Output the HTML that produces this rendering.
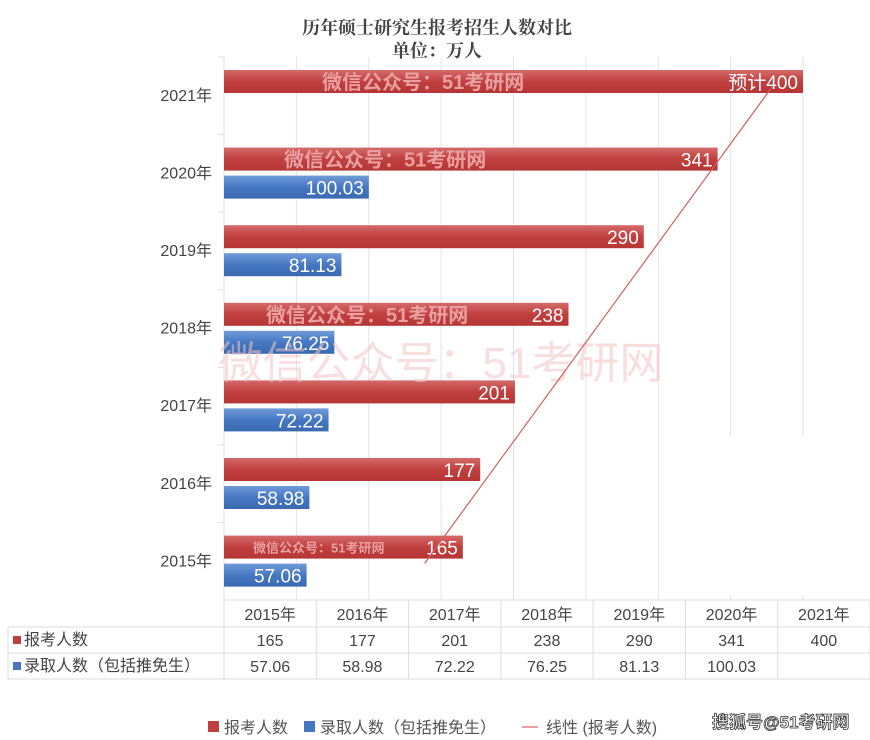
<!DOCTYPE html>
<html><head><meta charset="utf-8"><style>
body{margin:0;background:#fff;}
svg{display:block;font-family:"Liberation Sans","Noto Sans CJK SC",sans-serif;}
</style></head><body>
<svg id="chart" width="870" height="740" viewBox="0 0 870 740">
<defs>
<linearGradient id="gr" x1="0" y1="0" x2="0" y2="1"><stop offset="0" stop-color="#d46a6a"/><stop offset="0.5" stop-color="#c0403f"/><stop offset="1" stop-color="#b53634"/></linearGradient>
<linearGradient id="gb" x1="0" y1="0" x2="0" y2="1"><stop offset="0" stop-color="#6f9bd8"/><stop offset="0.5" stop-color="#4678c2"/><stop offset="1" stop-color="#3a69b0"/></linearGradient>
</defs>
<text x="437" y="34" text-anchor="middle" font-family="'Noto Serif CJK SC',serif" font-weight="bold" font-size="18" fill="#444">历年硕士研究生报考招生人数对比</text>
<text x="437" y="57" text-anchor="middle" font-family="'Noto Serif CJK SC',serif" font-weight="bold" font-size="18" fill="#444">单位：万人</text>
<g id="grid"></g>
<g id="bars"></g>
<g id="table"></g>
<text x="441" y="378" text-anchor="middle" font-size="44" fill="#f4c4c4" opacity="0.55">微信公众号：51考研网</text>
<line id="trend" stroke="#d06060" stroke-width="1.2"/>
<g>
<rect x="208" y="721" width="11" height="11" fill="#c0403f"/>
<text x="224" y="733" font-size="16" fill="#555">报考人数</text>
<rect x="304" y="721" width="11" height="11" fill="#4678c2"/>
<text x="320" y="733" font-size="16" fill="#555">录取人数（包括推免生）</text>
<line x1="522" y1="727" x2="538" y2="727" stroke="#e8a0a0" stroke-width="2"/>
<text x="546" y="733" font-size="16" fill="#555">线性 (报考人数)</text>
</g>
<text x="712" y="728" font-size="17" font-weight="bold" fill="#fff" stroke="#333" stroke-width="0.8">搜狐号@51考研网</text>
</svg>
<script>
const years=["2015年","2016年","2017年","2018年","2019年","2020年","2021年"];
const applicants=[165,177,201,238,290,341,400];
const admitted=[57.06,58.98,72.22,76.25,81.13,100.03,null];
const applicantLabels=["165","177","201","238","290","341","预计400"];
const admittedLabels=["57.06","58.98","72.22","76.25","81.13","100.03",""];
const xTicks=[0,50,100,150,200,250,300,350,400];
const NS="http://www.w3.org/2000/svg";
const x0=224,x1=803,xmax=400,plotTop=57,bandH=77.6;
const xs=v=>x0+(v/xmax)*(x1-x0);
const bandTop=i=>plotTop+(years.length-1-i)*bandH;
function mk(tag,attrs,parent){const e=document.createElementNS(NS,tag);for(const k in attrs)e.setAttribute(k,attrs[k]);parent.appendChild(e);return e;}
const grid=document.getElementById('grid'),bars=document.getElementById('bars'),table=document.getElementById('table');
xTicks.forEach(t=>{const l=mk('line',{x1:xs(t),x2:xs(t),y1:plotTop,y2:600,stroke:'#e2e2e2'},grid);

});
const cover=mk('rect',{x:660,y:436,width:170,height:160,fill:'#fff'},grid);


years.forEach((y,i)=>{
 const bt=bandTop(i);
 const tk=mk('line',{x1:218,x2:224,y1:bt,y2:bt,stroke:'#ddd'},grid);
 
 
 const yl=mk('text',{x:212,y:bt+bandH/2+5,'text-anchor':'end','font-size':16,fill:'#444'},bars);yl.textContent=y;
 
 
 const r=mk('rect',{x:x0,y:bt+13,width:xs(applicants[i])-x0,height:23,fill:'url(#gr)'},bars);
 
 
 const rt=mk('text',{x:xs(applicants[i])-5,y:bt+32,'text-anchor':'end','font-size':19,fill:'#fff'},bars);rt.textContent=applicantLabels[i];
 
 
 if(admitted[i]!=null){
  const b=mk('rect',{x:x0,y:bt+41,width:xs(admitted[i])-x0,height:23,fill:'url(#gb)'},bars);
  
  
  const bt2=mk('text',{x:xs(admitted[i])-5,y:bt+60,'text-anchor':'end','font-size':19,fill:'#fff'},bars);bt2.textContent=admittedLabels[i];
  
  
 }
});
[[6,322,20],[5,284,20],[3,266,20],[0,253,13]].forEach(([i,x,fs])=>{
 const w=mk('text',{x:x,y:bandTop(i)+(fs>15?32:30),'font-size':fs,'font-weight':'bold',fill:'#e8a0a0'},bars);w.textContent='微信公众号：51考研网';
 
 
});
const n=applicants.length;let sx=0,sy=0,sxy=0,sxx=0;applicants.forEach((v,i)=>{sx+=i;sy+=v;sxy+=i*v;sxx+=i*i;});
const m=(n*sxy-sx*sy)/(n*sxx-sx*sx),c=(sy-m*sx)/n;
const tr=document.getElementById('trend');
tr.setAttribute('x1',xs(c+m*0));tr.setAttribute('y1',bandTop(0)+bandH/2+2);
tr.setAttribute('x2',xs(c+m*6));tr.setAttribute('y2',bandTop(6)+29);
const cw=(870-224)/7;
const hl=(ax,ay,bx,by)=>{const l=mk('line',{x1:ax,y1:ay,x2:bx,y2:by,stroke:'#ddd'},table);};
hl(224,600,870,600);hl(8,627,870,627);hl(8,653,870,653);hl(8,679,870,679);hl(8,627,8,679);
for(let k=0;k<=7;k++)hl(224+k*cw,600,224+k*cw,679);
years.forEach((y,i)=>{
 const cx=224+cw*i+cw/2;
 const h=mk('text',{x:cx,y:620,'text-anchor':'middle','font-size':16,fill:'#444'},table);h.textContent=y;
 
 
 const a=mk('text',{x:cx,y:646,'text-anchor':'middle','font-size':16,fill:'#444'},table);a.textContent=applicants[i];
 
 
 const d=mk('text',{x:cx,y:672,'text-anchor':'middle','font-size':16,fill:'#444'},table);d.textContent=admitted[i]==null?'':admittedLabels[i];
 
 
});
const s1=mk('rect',{x:13,y:636,width:8,height:8,fill:'#c0403f'},table);


const t1=mk('text',{x:24,y:645,'font-size':16,fill:'#444'},table);t1.textContent='报考人数';


const s2=mk('rect',{x:13,y:662,width:8,height:8,fill:'#4678c2'},table);


const t2=mk('text',{x:24,y:671,'font-size':16,fill:'#444'},table);t2.textContent='录取人数（包括推免生）';


</script>
</body></html>
